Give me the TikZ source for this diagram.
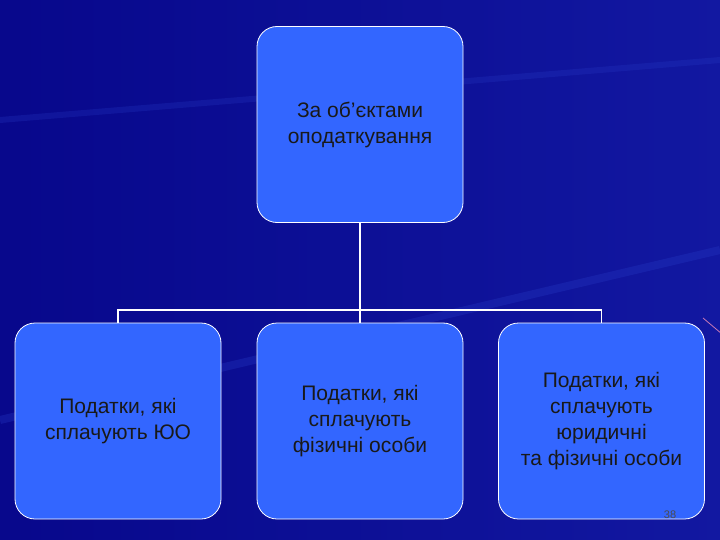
\documentclass[tikz,border=0pt]{standalone}
\usepackage{fontspec}
\setmainfont{Liberation Sans}
\definecolor{bg}{RGB}{8,8,140}
\definecolor{bgr}{RGB}{25,35,175}
\definecolor{streak}{RGB}{40,60,200}
\definecolor{boxfill}{RGB}{51,102,255}
\definecolor{pinkline}{RGB}{200,120,180}
\begin{document}
\begin{tikzpicture}[x=1pt,y=-1pt,
  box/.style={draw=white,line width=0.8pt,fill=boxfill,rounded corners=20pt,minimum width=206pt,minimum height=196pt,align=center,font=\fontsize{21}{26}\selectfont,text=black!90},
  conn/.style={draw=white,line width=1.2pt}]
\useasboundingbox (0,0) rectangle (720,540);
\fill[bg] (0,0) rectangle (720,540);
\begin{scope}
\clip (0,0) rectangle (720,540);
\shade[left color=bg,right color=bgr,opacity=0.6] (0,0) rectangle (720,540);
\draw[streak,line width=8pt,opacity=0.3] (0,420) -- (720,250);
\draw[streak,line width=6pt,opacity=0.25] (0,120) -- (720,60);
\draw[pinkline,line width=0.8pt] (703,318) -- (722,334);
\end{scope}
\node[box] (top) at (360,124.5) {За об'єктами\\оподаткування};
\node[box] (a) at (118,421) {Податки, які\\сплачують ЮО};
\node[box] (b) at (360,421) {Податки, які\\сплачують\\фізичні особи};
\node[box] (c) at (601.5,421) {Податки, які\\сплачують\\юридичні\\та фізичні особи};
\coordinate (j) at (360,310);
\draw[conn] (top.south) -- (j);
\draw[conn] (a.north) -- (a.north |- j) -- (c.north |- j) -- (c.north);
\draw[conn] (j) -- (b.north);
\node[font=\fontsize{11}{13}\selectfont,text=black!70] (pg) at (670,515) {38};
\end{tikzpicture}
\end{document}
